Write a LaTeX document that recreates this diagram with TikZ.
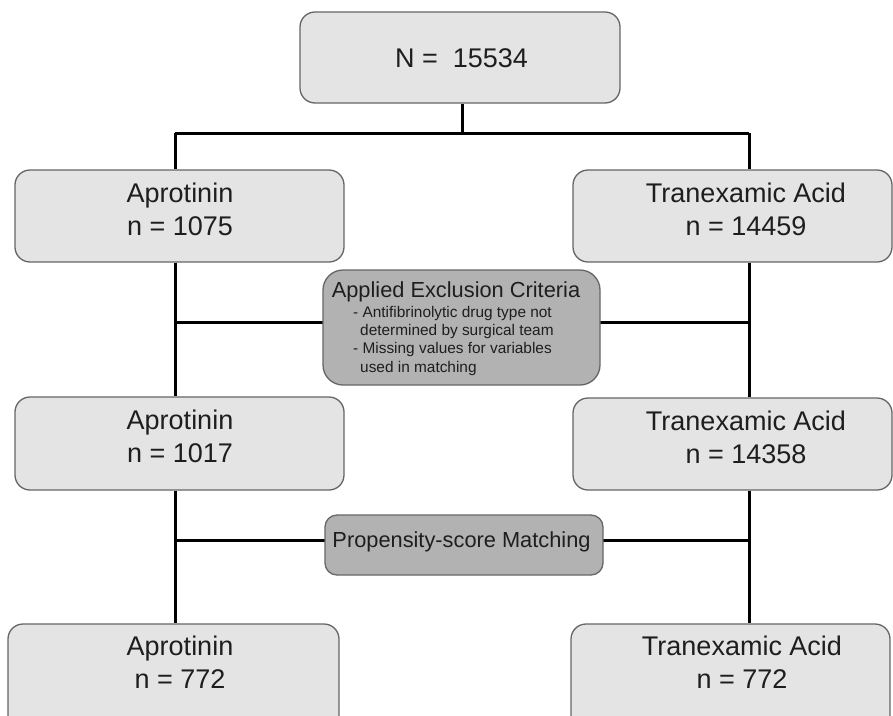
\documentclass[tikz,border=0pt]{standalone}
\usepackage{fontspec}
\setmainfont{Liberation Sans}
\definecolor{boxfill}{HTML}{E4E4E4}
\definecolor{darkfill}{HTML}{B2B2B2}
\definecolor{boxline}{HTML}{666666}
\definecolor{txt}{HTML}{1E1E1E}
\tikzset{
  mainbox/.style={draw=boxline, line width=1.3pt, fill=boxfill, rounded corners=15pt, inner sep=0pt},
  procbox/.style={draw=boxline, line width=1.3pt, fill=darkfill, rounded corners=17pt, inner sep=0pt},
  maintxt/.style={text=txt, align=center, inner sep=0pt, font=\fontsize{27}{33}\selectfont},
  titletxt/.style={text=txt, inner sep=0pt, font=\fontsize{21.8}{26}\selectfont},
  smalltxt/.style={text=txt, inner sep=0pt, anchor=base west, font=\fontsize{15.4}{18}\selectfont},
  conn/.style={line width=3pt, black}
}
\begin{document}
\begin{tikzpicture}[x=1pt,y=1pt]
\useasboundingbox (0,0) rectangle (893,-715);
% boxes
\node[mainbox, minimum width=320pt, minimum height=91pt] (top) at (460,-57.5) {};
\node[mainbox, minimum width=329pt, minimum height=92pt] (a1) at (179.5,-216) {};
\node[mainbox, minimum width=319pt, minimum height=92pt] (t1) at (732.5,-216) {};
\node[mainbox, minimum width=329pt, minimum height=93pt] (a2) at (179.5,-443.5) {};
\node[mainbox, minimum width=319pt, minimum height=92pt] (t2) at (732.5,-444) {};
\node[mainbox, minimum width=331pt, minimum height=110pt] (a3) at (173.5,-679) {};
\node[mainbox, minimum width=319pt, minimum height=110pt] (t3) at (730.5,-679) {};
% connector coordinates
\coordinate (split) at (462,-133);
\coordinate (L0) at (175,-133);
\coordinate (R0) at (749,-133);
\coordinate (L1) at (175,-322);
\coordinate (R1) at (749,-322);
\coordinate (L2) at (175,-540);
\coordinate (R2) at (749,-540);
% connectors (drawn under the process boxes)
\draw[conn] (top.south -| split) -- (split);
\draw[conn] (L0) -- (R0);
\draw[conn] (L0) -- (a1.north -| L0);
\draw[conn] (R0) -- (t1.north -| R0);
\draw[conn] (a1.south -| L1) -- (a2.north -| L1);
\draw[conn] (t1.south -| R1) -- (t2.north -| R1);
\draw[conn] (a2.south -| L2) -- (a3.north -| L2);
\draw[conn] (t2.south -| R2) -- (t3.north -| R2);
\draw[conn] (L1) -- (R1);
\draw[conn] (L2) -- (R2);
% process boxes
\node[procbox, minimum width=277pt, minimum height=115pt, rounded corners=20pt] (excl) at (461.5,-327.5) {};
\node[procbox, minimum width=278pt, minimum height=60pt, rounded corners=12pt] (prop) at (464,-545) {};
% texts
\node[maintxt] (topT) at (461.5,-58) {N = \ 15534};
\node[maintxt] (a1T) at (180,-209.5) {Aprotinin\\n = 1075};
\node[maintxt] (t1T) at (746,-209.5) {Tranexamic Acid\\n = 14459};
\node[maintxt] (a2T) at (180,-436.5) {Aprotinin\\n = 1017};
\node[maintxt] (t2T) at (746,-437.5) {Tranexamic Acid\\n = 14358};
\node[maintxt] (a3T) at (180,-662) {Aprotinin\\n = 772};
\node[maintxt] (t3T) at (742,-662) {Tranexamic Acid\\n = 772};
\node[titletxt, anchor=base] (exclT) at (456,-297) {Applied Exclusion Criteria};
\node[smalltxt] (ex1) at (353,-317) {- Antifibrinolytic drug type not};
\node[smalltxt] (ex2) at (360,-335) {determined by surgical team};
\node[smalltxt] (ex3) at (353,-353.5) {- Missing values for variables};
\node[smalltxt] (ex4) at (360,-372) {used in matching};
\node[titletxt, anchor=base] (propT) at (461.5,-547) {Propensity-score Matching};
\end{tikzpicture}
\end{document}
